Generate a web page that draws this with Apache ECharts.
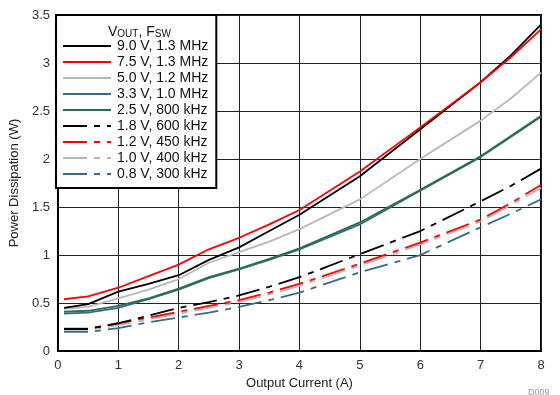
<!DOCTYPE html>
<html><head><meta charset="utf-8">
<script src="https://cdn.jsdelivr.net/npm/echarts@6/dist/echarts.min.js"></script>
<style>html,body{margin:0;padding:0;background:#fff}#c{width:560px;height:395px}</style>
</head><body><div id="c"></div>
<script>
var current = [0.1, 0.5, 1, 1.5, 2, 2.5, 3, 3.5, 4, 5, 6, 7, 7.5, 8];
var v9p0 = [0.45,0.49,0.62,0.70,0.79,0.95,1.08,1.25,1.42,1.82,2.31,2.80,3.08,3.40];
var v7p5 = [0.54,0.57,0.66,0.78,0.90,1.06,1.18,1.32,1.47,1.87,2.33,2.80,3.06,3.35];
var v5p0 = [0.44,0.46,0.55,0.64,0.75,0.92,1.03,1.14,1.27,1.58,2.00,2.40,2.63,2.90];
var v3p3 = [0.39,0.40,0.45,0.54,0.64,0.76,0.85,0.95,1.06,1.32,1.67,2.02,2.23,2.44];
var v2p5 = [0.41,0.42,0.47,0.55,0.65,0.77,0.86,0.96,1.07,1.34,1.68,2.03,2.24,2.45];
var v1p8 = [0.23,0.23,0.29,0.37,0.45,0.51,0.58,0.67,0.77,1.01,1.25,1.56,1.72,1.90];
var v1p2 = [0.235,0.235,0.29,0.35,0.41,0.47,0.53,0.61,0.70,0.91,1.13,1.37,1.54,1.73];
var v1p0 = [0.22,0.22,0.27,0.33,0.39,0.45,0.51,0.59,0.68,0.89,1.11,1.35,1.52,1.70];
var v0p8 = [0.20,0.20,0.24,0.30,0.35,0.40,0.46,0.53,0.61,0.82,1.00,1.29,1.43,1.58];
var names = ['9.0 V, 1.3 MHz','7.5 V, 1.3 MHz','5.0 V, 1.2 MHz','3.3 V, 1.0 MHz','2.5 V, 800 kHz','1.8 V, 600 kHz','1.2 V, 450 kHz','1.0 V, 400 kHz','0.8 V, 300 kHz'];
var yTicks = ['0','0.5','1','1.5','2','2.5','3','3.5'];

var chart = echarts.init(document.getElementById('c'), null, {renderer:'canvas'});
var dashPat = [24,7,6,7];
function pairs(v){ return current.map(function(x,i){ return [x, v[i]]; }); }
function mk(name, v, color, dashed, z){
  return {name:name, type:'line', data:pairs(v), showSymbol:false, symbol:'none', z:z,
    lineStyle:{color:color, width:1.8, type: dashed ? dashPat : 'solid'}, itemStyle:{color:color}, animation:false};
}
var BLUE = '#3a6a86', GREEN = '#2e6c4e', GRAY = '#b8b8b8';
chart.setOption({
  animation:false,
  grid:{left:56, right:19, top:15, bottom:40, show:true, borderColor:'#000', borderWidth:2},
  xAxis:{type:'value', min:0, max:8, interval:1,
    name:'Output Current (A)', nameLocation:'middle', nameGap:22,
    nameTextStyle:{fontFamily:'Liberation Sans', fontSize:13, color:'#222'},
    axisLine:{lineStyle:{color:'#000', width:2}}, axisTick:{show:false},
    axisLabel:{fontFamily:'Liberation Sans', fontSize:13, color:'#333', margin:8},
    splitLine:{lineStyle:{color:'#222', width:1}}},
  yAxis:{type:'value', min:0, max:3.5, interval:0.5,
    name:'Power Dissipation (W)', nameLocation:'middle', nameGap:34,
    nameTextStyle:{fontFamily:'Liberation Sans', fontSize:13, color:'#222'},
    axisLine:{lineStyle:{color:'#000', width:2}}, axisTick:{show:false},
    axisLabel:{fontFamily:'Liberation Sans', fontSize:13, color:'#333', margin:8,
      formatter:function(v){ var i = Math.round(v/0.5); return yTicks[i]; }},
    splitLine:{lineStyle:{color:'#222', width:1}}},
  legend:{left:56, top:15, orient:'vertical', backgroundColor:'#fff',
    borderColor:'#000', borderWidth:2, padding:[24,8,7,6],
    itemWidth:48, itemHeight:14, itemGap:2,
    itemStyle:{opacity:0, borderWidth:0},
    lineStyle:{width:2},
    textStyle:{fontFamily:'Liberation Sans', fontSize:14, color:'#111', padding:[0,0,0,1]},
    data:names},
  title:{text:'{n|V}{s|OUT}{n|, F}{s|SW}', left:103, top:20,
    textStyle:{fontWeight:'normal', rich:{n:{fontFamily:'Liberation Sans', fontSize:14, fontWeight:'normal', color:'#111'},
      s:{fontFamily:'Liberation Sans', fontSize:10, fontWeight:'normal', color:'#111', verticalAlign:'bottom', padding:[3,0,0,0]}}}},
  graphic:[{type:'text', left:528, top:388, style:{text:'D009', fontSize:9, fill:'#999', fontFamily:'Liberation Sans'}}],
  series:[
    mk(names[8], v0p8, BLUE, true, 2),
    mk(names[7], v1p0, GRAY, true, 2),
    mk(names[6], v1p2, '#ff0000', true, 3),
    mk(names[5], v1p8, '#000', true, 3),
    mk(names[3], v3p3, BLUE, false, 2),
    mk(names[4], v2p5, GREEN, false, 3),
    mk(names[2], v5p0, GRAY, false, 2),
    mk(names[0], v9p0, '#000', false, 3),
    mk(names[1], v7p5, '#ff0000', false, 4)
  ]
});
</script></body></html>
